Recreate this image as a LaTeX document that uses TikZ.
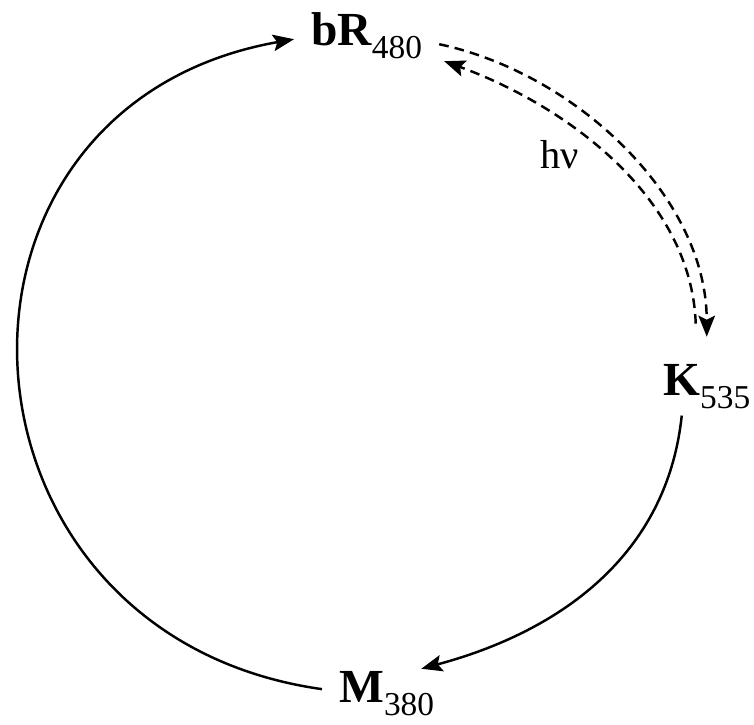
\documentclass[tikz,border=0pt]{standalone}
\usepackage{fontspec}
\setmainfont{Liberation Serif}
\usetikzlibrary{arrows.meta}

\newcommand{\statename}[2]{{\fontsize{27}{30}\selectfont\bfseries #1}\raisebox{-7.4pt}{\fontsize{19}{22}\selectfont #2}}

\begin{document}
\begin{tikzpicture}[
  state/.style={inner sep=0pt, anchor=base west},
  reaction/.style={-{Stealth[length=4.2mm, width=3.3mm, inset=0.8mm]}, line width=1.4pt},
  photo/.style={reaction, dash pattern=on 5.5pt off 3.5pt},
  line width=1.4pt
]
  \useasboundingbox (0,0) rectangle (15.08,-14.48);

  \node[state] (bR) at (6.2, -0.9) {\statename{bR}{480}};
  \node[state] (K) at (13.24, -7.9) {\statename{K}{535}};
  \node[state] (M) at (6.76, -14.04) {\statename{M}{380}};
  \node (hv) at (11.2, -3.1) {\fontsize{23}{26}\selectfont hν};

  % thermal steps
  \draw[reaction] ([shift={(-0.5,-0.12)}]K.south)
    to[out=264, in=15, looseness=1] ([shift={(-0.28,0.02)}]M.north east);
  \draw[reaction] ([shift={(-0.32,0.08)}]M.west)
    to[out=172, in=190, looseness=1.53] ([shift={(-0.32,-0.08)}]bR.west);

  % light step, reversible
  \draw[photo] ([shift={(0.32,-0.18)}]bR.east)
    to[out=-12, in=90, looseness=0.9] ([shift={(0,0.52)}]K.north);
  \draw[photo] ([shift={(-0.22,0.78)}]K.north)
    to[out=92, in=-20, looseness=0.9] ([shift={(0.42,-0.52)}]bR.east);
\end{tikzpicture}
\end{document}
